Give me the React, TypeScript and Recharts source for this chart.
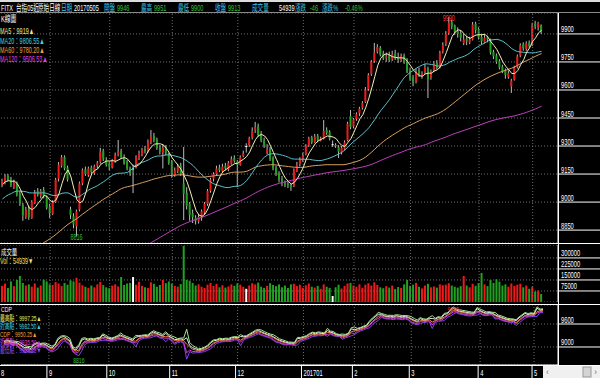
import React from 'react';
import { ComposedChart, Bar, Line, XAxis, YAxis, CartesianGrid, ReferenceLine } from 'recharts';

const FONT = "'Liberation Sans', 'Noto Sans CJK TC', sans-serif";
const RED = '#ee1a1a';
const GREEN = '#22a022';
const WICK = '#bcbcbc';
const GRID = '#6e6e6e';

// closes before the first visible bar (only feed the moving averages)
const priorClose = [
  8250, 8220, 8180, 8130, 8160, 8120, 8090, 8050, 8080, 8110,
  8140, 8170, 8150, 8200, 8230, 8210, 8250, 8270, 8240, 8290,
  8320, 8300, 8350, 8380, 8370, 8400,
  8300, 8340, 8380, 8400, 8420, 8390, 8340, 8290, 8260, 8330,
  8380, 8420, 8460, 8450, 8500, 8530, 8560, 8550, 8590, 8620,
  8610, 8660, 8690, 8670, 8710,
  8880, 8920, 8950, 8930, 8960, 8990, 8970, 9000, 9030, 9010,
  9040, 9060, 9050, 9020, 9040, 9070, 9090, 9110, 9100,
];

const openPx = [
  9090, 9105, 9140, 9125, 9080, 9100, 9045, 8985, 8920, 8965,
  8915, 8995, 9060, 9035, 9065, 9025, 8975, 8935, 9000, 9125,
  9195, 9240, 9185, 8960, 8925, 8870, 8960, 9100, 9175, 9145,
  9185, 9155, 9195, 9215, 9275, 9225, 9205, 9185, 9220, 9255,
  9275, 9240, 9215, 9180, 9180, 9185, 9235, 9255, 9285, 9270,
  9320, 9355, 9335, 9295, 9265, 9295, 9255, 9215, 9145, 9165,
  9195, 9100, 9050, 8990, 8940, 8915, 8895, 8915, 8945, 8990,
  9060, 9125, 9150, 9185, 9165, 9195, 9175, 9205, 9235, 9215,
  9200, 9245, 9300, 9305, 9345, 9385, 9405, 9365, 9330, 9265,
  9285, 9235, 9185, 9155, 9125, 9105, 9100, 9090, 9085, 9165,
  9205, 9225, 9255, 9305, 9345, 9320, 9355, 9330, 9340, 9385,
  9375, 9310, 9305, 9295, 9265, 9285, 9330, 9460, 9405, 9445,
  9475, 9505, 9535, 9605, 9685, 9755, 9805, 9825, 9795, 9770,
  9785, 9765, 9795, 9775, 9760, 9785, 9755, 9705, 9665, 9645,
  9705, 9675, 9695, 9715, 9665, 9705, 9745, 9725, 9805, 9845,
  9905, 9965, 9945, 9915, 9905, 9850, 9875, 9855, 9870, 9955,
  9925, 9885, 9855, 9885, 9865, 9805, 9785, 9755, 9725, 9705,
  9670, 9620, 9655, 9725, 9785, 9845, 9820, 9855, 9840, 9955,
  9935, 9946,
];

const highPx = [
  9125, 9150, 9150, 9135, 9120, 9110, 9060, 8995, 8975, 8980,
  9010, 9065, 9075, 9070, 9080, 9035, 8990, 9010, 9130, 9215,
  9252, 9250, 9195, 8975, 8940, 8960, 9110, 9180, 9190, 9190,
  9195, 9200, 9220, 9290, 9285, 9240, 9215, 9230, 9265, 9332,
  9285, 9255, 9225, 9190, 9200, 9250, 9275, 9290, 9300, 9335,
  9386, 9370, 9345, 9305, 9310, 9305, 9265, 9225, 9185, 9205,
  9210, 9295, 9080, 9000, 8960, 8930, 8935, 8960, 9000, 9070,
  9130, 9160, 9195, 9200, 9205, 9210, 9220, 9245, 9250, 9225,
  9250, 9275, 9315, 9350, 9400, 9429, 9420, 9380, 9345, 9310,
  9295, 9245, 9195, 9165, 9140, 9115, 9110, 9100, 9180, 9215,
  9240, 9265, 9310, 9350, 9355, 9365, 9365, 9350, 9439, 9400,
  9385, 9330, 9315, 9305, 9300, 9330, 9430, 9493, 9450, 9480,
  9510, 9540, 9616, 9690, 9760, 9852, 9845, 9835, 9810, 9800,
  9805, 9810, 9815, 9800, 9795, 9795, 9770, 9720, 9680, 9715,
  9720, 9700, 9740, 9725, 9710, 9755, 9760, 9810, 9855, 9915,
  9990, 9975, 9950, 9935, 9920, 9900, 9890, 9885, 9964, 9965,
  9935, 9895, 9895, 9890, 9875, 9815, 9795, 9765, 9735, 9715,
  9705, 9660, 9730, 9790, 9850, 9855, 9860, 9865, 9960, 9970,
  9965, 9951,
];

const lowPx = [
  9080, 9095, 9110, 9080, 9070, 9030, 8980, 8900, 8910, 8905,
  8910, 8990, 9030, 9020, 9020, 8960, 8915, 8930, 8995, 9110,
  9185, 9170, 9110, 8910, 8860, 8816, 8950, 9090, 9140, 9135,
  9150, 9145, 9180, 9205, 9220, 9190, 9170, 9180, 9210, 9245,
  9230, 9200, 9170, 9140, 9048, 9180, 9225, 9245, 9260, 9265,
  9310, 9320, 9280, 9255, 9180, 9250, 9200, 9130, 9135, 9155,
  9140, 8904, 8960, 8900, 8888, 8880, 8885, 8900, 8935, 8980,
  9050, 9110, 9140, 9160, 9160, 9170, 9165, 9200, 9210, 9080,
  9195, 9240, 9265, 9295, 9335, 9370, 9350, 9320, 9290, 9255,
  9220, 9170, 9140, 9105, 9085, 9080, 9075, 9060, 9080, 9160,
  9190, 9215, 9250, 9295, 9310, 9315, 9320, 9325, 9335, 9360,
  9330, 9295, 9290, 9236, 9255, 9280, 9325, 9390, 9395, 9435,
  9460, 9495, 9530, 9595, 9675, 9745, 9795, 9780, 9760, 9750,
  9750, 9755, 9760, 9745, 9750, 9740, 9690, 9650, 9620, 9635,
  9670, 9660, 9685, 9557, 9655, 9695, 9710, 9715, 9795, 9835,
  9895, 9925, 9895, 9880, 9860, 9840, 9840, 9845, 9865, 9905,
  9870, 9845, 9850, 9855, 9790, 9765, 9740, 9710, 9690, 9660,
  9660, 9584, 9650, 9715, 9775, 9810, 9810, 9825, 9835, 9925,
  9918, 9900,
];

const closePx = [
  9110, 9135, 9120, 9090, 9105, 9040, 8990, 8930, 8960, 8920,
  9000, 9050, 9040, 9060, 9030, 8970, 8940, 9000, 9120, 9200,
  9240, 9180, 9120, 8930, 8880, 8950, 9100, 9170, 9150, 9180,
  9160, 9190, 9210, 9270, 9230, 9200, 9190, 9220, 9250, 9270,
  9240, 9210, 9180, 9150, 9180, 9240, 9260, 9280, 9270, 9320,
  9350, 9330, 9290, 9270, 9290, 9260, 9210, 9150, 9170, 9190,
  9150, 9045, 8980, 8930, 8920, 8900, 8920, 8950, 8990, 9060,
  9120, 9150, 9180, 9170, 9190, 9180, 9210, 9230, 9220, 9200,
  9240, 9260, 9300, 9340, 9380, 9400, 9360, 9330, 9300, 9280,
  9230, 9180, 9150, 9120, 9100, 9090, 9090, 9080, 9170, 9200,
  9230, 9250, 9300, 9340, 9320, 9350, 9330, 9340, 9380, 9370,
  9340, 9310, 9300, 9270, 9290, 9320, 9420, 9400, 9440, 9470,
  9500, 9530, 9600, 9680, 9750, 9800, 9830, 9790, 9770, 9780,
  9760, 9790, 9770, 9760, 9780, 9750, 9700, 9660, 9640, 9700,
  9680, 9690, 9720, 9660, 9700, 9740, 9720, 9800, 9840, 9900,
  9960, 9940, 9910, 9900, 9880, 9870, 9860, 9870, 9950, 9920,
  9880, 9860, 9880, 9870, 9800, 9780, 9750, 9720, 9700, 9680,
  9690, 9650, 9720, 9780, 9840, 9824, 9850, 9835, 9950, 9940,
  9959, 9913,
];

const volume = [
  110000, 125000, 95000, 140000, 108000, 150000, 177000, 130000, 112000, 120000,
  104000, 126000, 98000, 112000, 152000, 140000, 120000, 116000, 136000, 126000,
  108000, 130000, 118000, 148000, 140000, 165000, 132000, 114000, 104000, 96000,
  112000, 100000, 120000, 136000, 115000, 100000, 94000, 112000, 120000, 106000,
  170000, 116000, 126000, 130000, 170000, 118000, 138000, 110000, 100000, 96000,
  134000, 124000, 104000, 116000, 150000, 128000, 140000, 125000, 110000, 104000,
  122000, 382000, 150000, 145000, 130000, 112000, 120000, 104000, 96000, 118000,
  130000, 110000, 124000, 100000, 114000, 98000, 106000, 120000, 110000, 126000,
  118000, 104000, 90000, 112000, 128000, 120000, 132000, 104000, 96000, 110000,
  128000, 116000, 108000, 120000, 100000, 112000, 96000, 120000, 124000, 108000,
  118000, 96000, 114000, 126000, 104000, 98000, 110000, 90000, 120000, 104000,
  96000, 41000, 100000, 118000, 92000, 110000, 126000, 130000, 112000, 104000,
  120000, 96000, 118000, 128000, 112000, 134000, 116000, 100000, 94000, 108000,
  98000, 112000, 88000, 102000, 96000, 120000, 150000, 110000, 118000, 130000,
  104000, 92000, 112000, 124000, 100000, 106000, 98000, 120000, 114000, 118000,
  128000, 112000, 104000, 98000, 108000, 177000, 112000, 100000, 124000, 110000,
  128000, 198000, 120000, 108000, 150000, 130000, 155000, 138000, 112000, 120000,
  104000, 126000, 110000, 118000, 124000, 100000, 112000, 90000, 104000, 72000,
  78000, 54939,
];

const monthStarts = [0, 16, 36, 57, 79, 101, 118, 137, 160, 178];
const monthLabels = ['8', '9', '10', '11', '12', '201701', '2', '3', '4', '5'];
const priceTicks = [8850, 9000, 9150, 9300, 9450, 9600, 9750, 9900];
const volTicks = [75000, 150000, 225000, 300000];
const cdpTicks = [9000, 9600];
const EMPTY_SLOTS = 5;

const allClose = [...priorClose, ...closePx];
function avg(n: number, i: number) {
  const k = i + priorClose.length;
  if (k - n + 1 < 0) return null;
  let s = 0;
  for (let j = k - n + 1; j <= k; j++) s += allClose[j];
  return s / n;
}

const hiIdx = highPx.indexOf(Math.max(...highPx));
const loIdx = lowPx.indexOf(Math.min(...lowPx));

const rows: any[] = closePx.map((c, i) => {
  const o = openPx[i];
  const row: any = {
    i, o, c, h: highPx[i], l: lowPx[i],
    range: [lowPx[i], highPx[i]],
    vol: volume[i],
    col: c > o ? RED : c < o ? GREEN : '#ffffff',
    ma5: avg(5, i), ma20: avg(20, i), ma60: avg(60, i), ma120: avg(120, i),
  };
  if (i > 0) {
    const h0 = highPx[i - 1], l0 = lowPx[i - 1], c0 = closePx[i - 1];
    const m = (h0 + l0 + 2 * c0) / 4;
    row.cdp = m;
    row.ah = m + (h0 - l0);
    row.nh = 2 * m - l0;
    row.nl = 2 * m - h0;
    row.al = m - (h0 - l0);
  }
  return row;
});
for (let k = 0; k < EMPTY_SLOTS; k++) rows.push({ i: closePx.length + k });

function T({ x, y, fill = '#fff', size = 9, sx = 0.64, anchor = 'start', children }: any) {
  return (
    <text transform={`translate(${x},${y}) scale(${sx},1)`} fill={fill} fontSize={size}
      fontFamily={FONT} textAnchor={anchor}>{children}</text>
  );
}

const Candle = (p: any) => {
  const { x, y, width, height, payload } = p;
  if (!payload || payload.o == null) return <g />;
  const { o, c, h, l, col } = payload;
  const span = h - l || 1;
  const yv = (v: number) => y + ((h - v) / span) * height;
  const cx = x + width / 2;
  const top = yv(Math.max(o, c));
  const bot = yv(Math.min(o, c));
  return (
    <g>
      <line x1={cx} x2={cx} y1={y} y2={y + height} stroke={WICK} strokeWidth={1} />
      <rect x={cx - 1} y={top} width={2} height={Math.max(1, bot - top)} fill={col} />
      {payload.i === hiIdx && (
        <T x={cx} y={Math.max(y + 1, 8)} fill="#ff3030" anchor="middle" size={8.5}>{String(h)}</T>
      )}
      {payload.i === loIdx && (
        <T x={cx} y={y + height + 4} fill="#30c030" anchor="middle" size={8.5}>{String(l)}</T>
      )}
    </g>
  );
};

const VolBar = (p: any) => {
  const { x, y, width, height, payload } = p;
  if (!payload || payload.vol == null) return <g />;
  return <rect x={x + width / 2 - 1} y={y} width={2} height={height} fill={payload.col} />;
};

const RightTick = (p: any) => {
  const { y, payload } = p;
  return (
    <g>
      <line x1={558} x2={600} y1={y} y2={y} stroke="#fff" strokeWidth={1} />
      <T x={561} y={y - 1.5}>{String(payload.value)}</T>
    </g>
  );
};

const MonthTick = (p: any) => {
  const { x, payload } = p;
  const k = monthStarts.indexOf(payload.value);
  if (k < 0) return <g />;
  return (
    <g>
      <line x1={x - 2} x2={x - 2} y1={61} y2={73} stroke="#fff" strokeWidth={1} />
      <T x={x} y={71}>{monthLabels[k]}</T>
    </g>
  );
};

const CdpHiDot = (p: any) => {
  const { cx, cy, payload, index } = p;
  if (!payload || payload.i !== hiIdx + 1) return <g key={index} />;
  return <T key={index} x={cx} y={Math.max(cy - 1, 7)} fill="#ff3030" anchor="middle" size={8}>{String(highPx[hiIdx])}</T>;
};

const CdpLoDot = (p: any) => {
  const { cx, cy, payload, index } = p;
  if (!payload || payload.i !== loIdx + 1) return <g key={index} />;
  return <T key={index} x={cx} y={cy + 7} fill="#30c030" anchor="middle" size={8}>{String(lowPx[loIdx])}</T>;
};

const monthLines = monthStarts.slice(1).map((m) => (
  <ReferenceLine key={m} x={m} stroke={GRID} strokeDasharray="1 2" />
));

const headerParts: [string, number, string][] = [
  ['FITX', 1, '#ffffff'], ['台指05近', 16, '#ffffff'], ['原始日線', 38, '#ffffff'],
  ['日期', 61, '#38c8f0'], ['20170505', 74, '#ffffff'],
  ['開盤', 104, '#38c8f0'], ['9946', 117, '#30c030'],
  ['最高', 141, '#38c8f0'], ['9951', 154, '#30c030'],
  ['最低', 178, '#38c8f0'], ['9900', 191, '#30c030'],
  ['收盤', 215, '#38c8f0'], ['9913', 228, '#30c030'],
  ['成交量', 252, '#38c8f0'], ['54939', 279, '#ffffff'],
  ['漲跌', 295, '#38c8f0'], ['-46', 310, '#30c030'],
  ['漲跌%', 322, '#38c8f0'], ['-0.46%', 345, '#30c030'],
];

const maLegend: [string, string, number][] = [
  ['MA5：9919▲', '#f0e68c', 34],
  ['MA20：9806.55▲', '#40d0e0', 44],
  ['MA60：9780.20▲', '#f0a040', 53],
  ['MA120：9506.53▲', '#e040e0', 62],
];

const cdpLegend: [string, string, number][] = [
  ['最高點：9997.25▲', '#f0f060', 321],
  ['近高點：9982.50▲', '#40d0e0', 329],
  ['CDP：9950.25▲', '#f0a040', 337],
  ['近低點：9935.50▲', '#e040e0', 345],
  ['最低點：9903.25▼', '#9050f0', 353],
];

export default function App() {
  return (
    <div style={{ position: 'fixed', left: 0, top: 0, width: 600, height: 378, background: '#000', overflow: 'hidden' }}>
      <div style={{ position: 'absolute', left: 0, top: 13 }}>
        <ComposedChart width={600} height={230} data={rows} margin={{ top: 0, right: 0, bottom: 0, left: 1 }} barCategoryGap={0}>
          <XAxis dataKey="i" type="category" hide />
          <YAxis orientation="right" width={42} domain={[8781, 10012]} allowDataOverflow ticks={priceTicks}
            interval={0} tick={<RightTick />} tickLine={false} axisLine={{ stroke: '#fff' }} />
          <CartesianGrid vertical={false} stroke={GRID} strokeDasharray="1 2" />
          {monthLines}
          <Bar dataKey="range" barSize={2} shape={<Candle />} isAnimationActive={false} />
          <Line dataKey="ma120" stroke="#c040c0" strokeWidth={1} dot={false} isAnimationActive={false} />
          <Line dataKey="ma60" stroke="#d8a060" strokeWidth={1} dot={false} isAnimationActive={false} />
          <Line dataKey="ma20" stroke="#58c0c8" strokeWidth={1} dot={false} isAnimationActive={false} />
          <Line dataKey="ma5" stroke="#f0f0b8" strokeWidth={1} dot={false} isAnimationActive={false} />
        </ComposedChart>
      </div>
      <div style={{ position: 'absolute', left: 0, top: 245 }}>
        <ComposedChart width={600} height={57} data={rows} margin={{ top: 0, right: 0, bottom: 0, left: 1 }} barCategoryGap={0}>
          <XAxis dataKey="i" type="category" hide />
          <YAxis orientation="right" width={42} domain={[0, 388000]} allowDataOverflow ticks={volTicks}
            interval={0} tick={<RightTick />} tickLine={false} axisLine={{ stroke: '#fff' }} />
          <CartesianGrid vertical={false} stroke={GRID} strokeDasharray="1 2" />
          {monthLines}
          <Bar dataKey="vol" barSize={2} shape={<VolBar />} isAnimationActive={false} />
        </ComposedChart>
      </div>
      <div style={{ position: 'absolute', left: 0, top: 305 }}>
        <ComposedChart width={600} height={73} data={rows} margin={{ top: 0, right: 0, bottom: 0, left: 1 }}>
          <XAxis dataKey="i" type="category" ticks={monthStarts} interval={0} height={13}
            tick={<MonthTick />} tickLine={false} axisLine={{ stroke: '#fff' }} />
          <YAxis orientation="right" width={42} domain={[8530, 10096]} allowDataOverflow ticks={cdpTicks}
            interval={0} tick={<RightTick />} tickLine={false} axisLine={{ stroke: '#fff' }} />
          <CartesianGrid vertical={false} stroke={GRID} strokeDasharray="1 2" />
          {monthLines}
          <Line dataKey="al" stroke="#8a40f0" strokeWidth={1} dot={<CdpLoDot />} isAnimationActive={false} />
          <Line dataKey="nl" stroke="#d040d0" strokeWidth={1} dot={false} isAnimationActive={false} />
          <Line dataKey="cdp" stroke="#f08040" strokeWidth={1} dot={false} isAnimationActive={false} />
          <Line dataKey="nh" stroke="#e8e8e8" strokeWidth={1} dot={false} isAnimationActive={false} />
          <Line dataKey="ah" stroke="#a8e890" strokeWidth={1} dot={<CdpHiDot />} isAnimationActive={false} />
        </ComposedChart>
      </div>
      <svg width={600} height={378} style={{ position: 'absolute', left: 0, top: 0, pointerEvents: 'none' }}>
        <rect x={0} y={0} width={600} height={2} fill="#dcdcdc" />
        {headerParts.map(([t, x, c]) => (
          <T key={t + x} x={x} y={11} fill={c} sx={0.62}>{t}</T>
        ))}
        <line x1={0} x2={600} y1={12.5} y2={12.5} stroke="#8a8a8a" />
        <line x1={0} x2={600} y1={243.5} y2={243.5} stroke="#fff" />
        <line x1={0} x2={600} y1={304.5} y2={304.5} stroke="#fff" />
        <line x1={0} x2={600} y1={365.5} y2={365.5} stroke="#fff" />
        <line x1={558.5} x2={558.5} y1={13} y2={366} stroke="#fff" />
        <T x={1} y={22}>K線圖</T>
        {maLegend.map(([t, c, y]) => <T key={t} x={0} y={y} fill={c} size={8.5}>{t}</T>)}
        <T x={1} y={255} size={8.5}>成交量</T>
        <T x={0} y={264} fill="#f0e060" size={8.5}>Vol：54939▼</T>
        <T x={1} y={312} size={8}>CDP</T>
        {cdpLegend.map(([t, c, y]) => <T key={t} x={0} y={y} fill={c} size={7.5}>{t}</T>)}
        <rect x={543} y={366} width={57} height={12} fill="#f0f0f0" />
        <rect x={583} y={367} width={8} height={10} fill="#d4d4d4" stroke="#999" />
        <T x={546} y={375} fill="#777" sx={1}>‹</T>
        <T x={594} y={375} fill="#777" sx={1}>›</T>
      </svg>
    </div>
  );
}
